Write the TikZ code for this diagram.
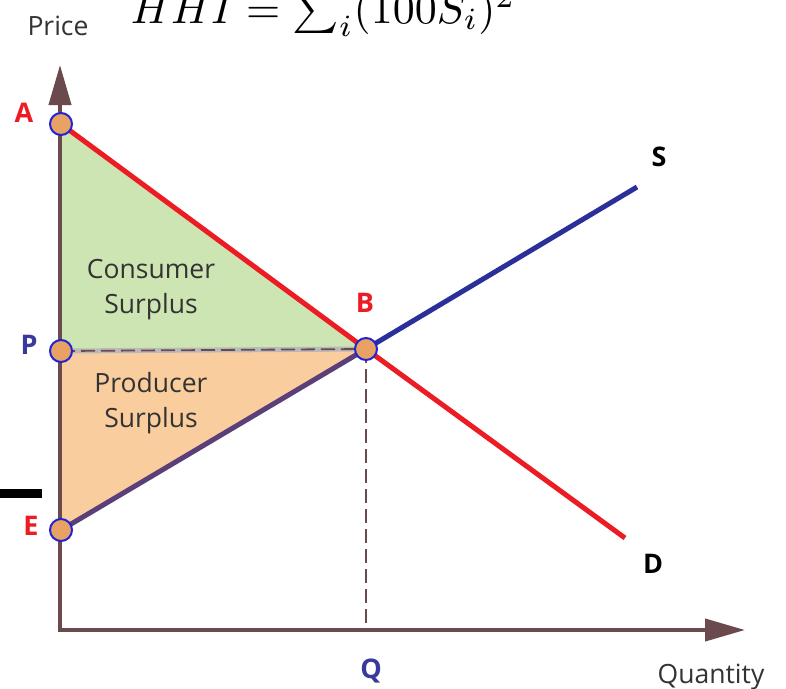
\documentclass[tikz,border=0pt]{standalone}
\usepackage{fontspec}
\setsansfont{Open Sans}
\usetikzlibrary{arrows.meta}
\definecolor{axiscol}{HTML}{6B4A4E}
\definecolor{demand}{HTML}{EC1C24}
\definecolor{supply}{HTML}{2B2F9A}
\definecolor{supplylow}{HTML}{5B3F78}
\definecolor{csfill}{HTML}{CDE5B2}
\definecolor{psfill}{HTML}{F9CD9E}
\definecolor{dotfill}{HTML}{E8A263}
\definecolor{dotline}{HTML}{2323D6}
\definecolor{ptblue}{HTML}{3A3A9C}
\definecolor{txt}{HTML}{333333}
\tikzset{
  dot/.style={circle, draw=dotline, fill=dotfill, line width=2pt, minimum size=22pt, inner sep=0pt},
  lbl/.style={font=\sffamily\bfseries\fontsize{27}{30}\selectfont, inner sep=0pt},
  area/.style={font=\sffamily\fontsize{26.5}{35}\selectfont, text=txt, align=center, anchor=base},
  axislbl/.style={font=\sffamily\fontsize{26.5}{30}\selectfont, text=txt, anchor=base},
  axisline/.style={draw=axiscol, line width=4pt, -{Triangle[length=40pt,width=22pt]}}
}
\begin{document}
\begin{tikzpicture}[x=1pt,y=-1pt]
\useasboundingbox (0,0) rectangle (786,688);
\fill[white] (0,0) rectangle (786,688);
% coordinates
\coordinate (o) at (60,630);
\coordinate (a) at (61,124);
\coordinate (p) at (61,351);
\coordinate (e) at (61,530);
\coordinate (b) at (366,349);
\coordinate (dend) at (625,538);
\coordinate (send) at (637,187);
\coordinate (q) at (366,630);
\coordinate (ytip) at (60,65);
\coordinate (xtip) at (745,630);
% areas
\fill[csfill] (a) -- (b) -- (p) -- cycle;
\fill[psfill] (p) -- (b) -- (e) -- cycle;
% axes
\draw[axisline] (o) -- (ytip);
\draw[axisline] ([xshift=-2pt]o) -- (xtip);
% dashed guides
\draw[gray!55, line width=5pt] (p) -- (b);
\draw[axiscol, line width=1.8pt, dash pattern=on 14pt off 6pt] (p) -- (b);
\draw[axiscol, line width=1.6pt, dash pattern=on 14pt off 6pt] (b) -- (q);
% curves
\draw[demand, line width=5pt] (a) -- (b) -- (dend);
\draw[supplylow, line width=5pt] (e) -- (b);
\draw[supply, line width=5pt] (b) -- (send);
% dots
\node[dot] (A) at (a) {};
\node[dot] (P) at (p) {};
\node[dot] (E) at (e) {};
\node[dot] (B) at (b) {};
% labels
\node[lbl, text=demand] at (24,113) {A};
\node[lbl, text=ptblue] at (29,345) {P};
\node[lbl, text=demand] at (31,526) {E};
\node[lbl, text=demand] at (365,303) {B};
\node[lbl] at (659,157) {S};
\node[lbl] at (653,564) {D};
\node[lbl, text=ptblue] at (371,671) {Q};
\node[area] at (151,313) {Consumer\\Surplus};
\node[area] at (151,427) {Producer\\Surplus};
\node[axislbl] at (58,35) {Price};
\node[axislbl] at (711,683) {Quantity};
% formula
\node[anchor=base west, inner sep=0pt, scale=4.4] at (130,23) {$HHI = \sum_i(100S_i)^2$};
% black mark
\fill[black] (0,489) rectangle (42,498);
\end{tikzpicture}
\end{document}
